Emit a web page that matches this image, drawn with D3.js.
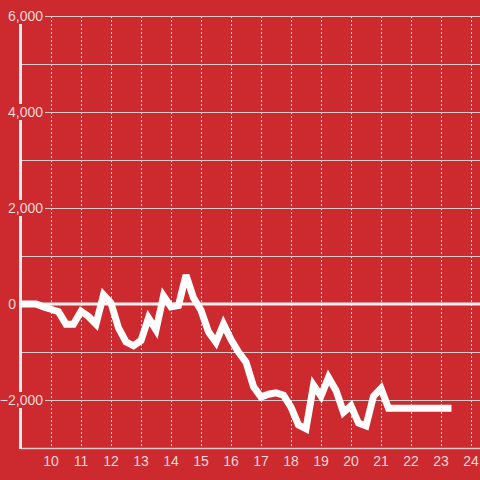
<!DOCTYPE html>
<html><head><meta charset="utf-8">
<script src="https://cdn.jsdelivr.net/npm/d3@7"></script>
<style>html,body{margin:0;padding:0;background:#cc2a2f;}svg{display:block;}</style>
</head><body><svg id="c" width="480" height="480"></svg>
<script>
const hours = [9.00,9.25,9.50,9.75,10.00,10.25,10.50,10.75,11.00,11.25,11.50,11.75,12.00,12.25,12.50,12.75,13.00,13.25,13.50,13.75,14.00,14.25,14.50,14.75,15.00,15.25,15.50,15.75,16.00,16.25,16.50,16.75,17.00,17.25,17.50,17.75,18.00,18.25,18.50,18.75,19.00,19.25,19.50,19.75,20.00,20.25,20.50,20.75,21.00,21.25,21.50,23.35];
const values = [0,0,0,-60,-110,-160,-420,-420,-150,-260,-420,190,20,-500,-790,-870,-760,-290,-540,170,-60,-30,600,130,-130,-580,-800,-420,-740,-1000,-1210,-1720,-1940,-1880,-1850,-1900,-2150,-2520,-2600,-1690,-1920,-1530,-1800,-2260,-2120,-2480,-2540,-1920,-1760,-2170,-2170,-2170];
const xTicks = [10,11,12,13,14,15,16,17,18,19,20,21,22,23,24];
const yGrid = [-2000,-1000,0,1000,2000,3000,4000,5000,6000];
const yLabels = [-2000,0,2000,4000,6000];

const svg = d3.select('#c');
const W = 480, H = 480;
svg.append('rect').attr('width',W).attr('height',H).attr('fill','#cc2a2f');
const x = d3.scaleLinear().domain([9,24.3]).range([21,480]);
const y = d3.scaleLinear().domain([-3000,6000]).range([448,16]);
const font = 'Liberation Sans, Arial, sans-serif';
const txt = '#f3d8d8';

// vertical dashed grid
svg.append('g').selectAll('line').data(xTicks).join('line')
  .attr('x1',d=>Math.round(x(d))+0.5).attr('x2',d=>Math.round(x(d))+0.5)
  .attr('y1',y(6000)).attr('y2',y(-3000))
  .attr('stroke','#e6dcdc').attr('stroke-width',1).attr('stroke-dasharray','2,2');

// horizontal grid
svg.append('g').selectAll('line').data(yGrid.filter(d=>d!==0)).join('line')
  .attr('x1',x(9)).attr('x2',480)
  .attr('y1',d=>Math.round(y(d))+0.5).attr('y2',d=>Math.round(y(d))+0.5)
  .attr('stroke','#d6c8c8').attr('stroke-width',1);

// bottom axis line
svg.append('line').attr('x1',x(9)).attr('x2',480).attr('y1',448.5).attr('y2',448.5)
  .attr('stroke','#d6c8c8').attr('stroke-width',1.5);

// left axis line
svg.append('line').attr('x1',20.5).attr('x2',20.5).attr('y1',y(6000)).attr('y2',449)
  .attr('stroke','#f2ecec').attr('stroke-width',3);

// zero line
svg.append('line').attr('x1',20).attr('x2',480).attr('y1',y(0)).attr('y2',y(0))
  .attr('stroke','#f5f0f0').attr('stroke-width',3);

// data line
const line = d3.line().x((d,i)=>x(hours[i])).y(d=>y(d));
svg.append('path').datum(values).attr('d',line)
  .attr('fill','none').attr('stroke','#ffffff').attr('stroke-width',7)
  .attr('stroke-linejoin','miter').attr('stroke-miterlimit',3);

// y labels with background
const yl = svg.append('g').selectAll('g').data(yLabels).join('g');
yl.filter(d=>d!==0).append('rect')
  .attr('x',2).attr('width',43).attr('y',d=>y(d)-8).attr('height',16).attr('fill','#cc2a2f');
yl.append('text')
  .attr('x',d=>d===0?16:43).attr('y',d=>y(d)+5)
  .attr('text-anchor','end').attr('font-family',font).attr('font-size',14).attr('fill',txt)
  .text(d=>d3.format(',')(d));

// x labels
svg.append('g').selectAll('text').data(xTicks).join('text')
  .attr('x',d=>x(d)).attr('y',466).attr('text-anchor','middle')
  .attr('font-family',font).attr('font-size',14).attr('fill',txt)
  .text(d=>d);
</script></body></html>
